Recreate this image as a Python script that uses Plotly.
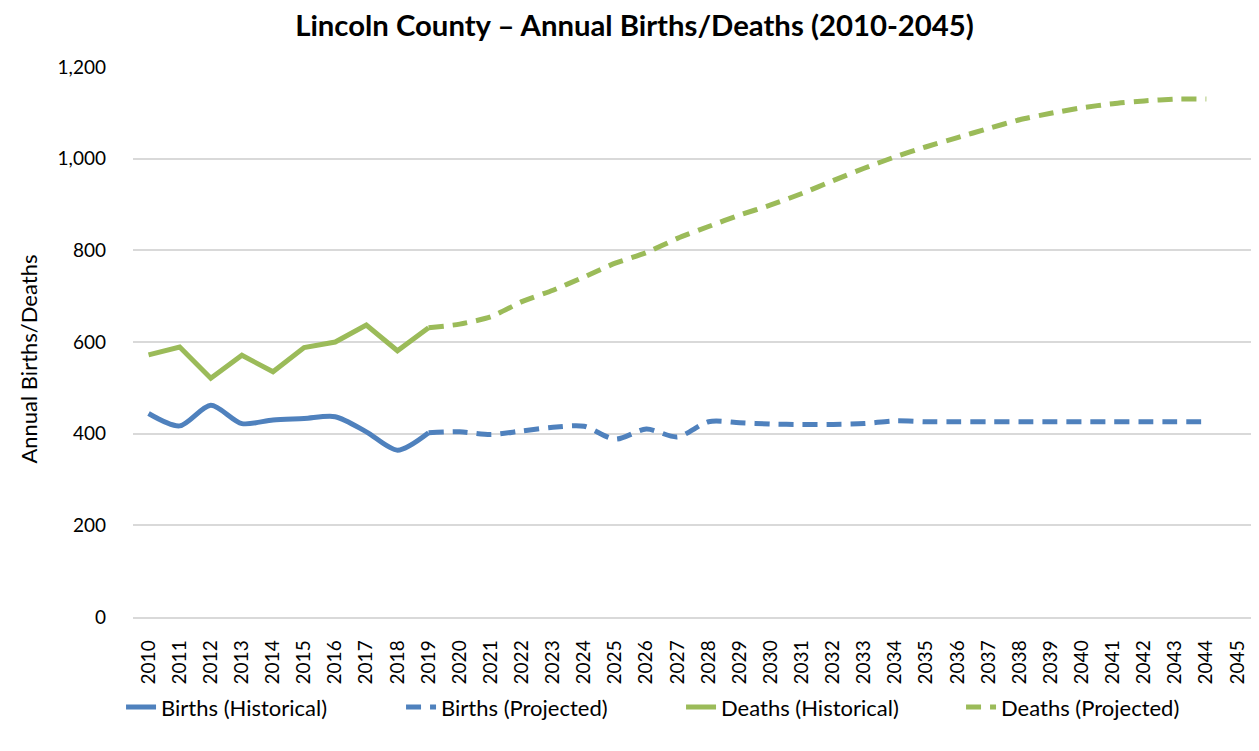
import plotly.graph_objects as go

years = [str(y) for y in range(2010, 2046)]
hist_years = [str(y) for y in range(2010, 2020)]
proj_years = [str(y) for y in range(2019, 2045)]

births_hist = [444, 417, 462, 422, 430, 433, 437, 404, 364, 402]
births_proj = [402, 404, 398, 406, 414, 416, 388, 410, 393, 426, 424, 421, 420,
               420, 422, 428, 426, 426, 426, 426, 426, 426, 426, 426, 426, 426]
deaths_hist = [572, 589, 521, 571, 535, 588, 600, 637, 581, 631]
deaths_proj = [631, 639, 655, 688, 713, 742, 772, 795, 826, 852, 877, 899, 924,
               952, 979, 1004, 1026, 1046, 1066, 1085, 1099, 1111, 1120, 1126, 1130, 1130]

BLUE = "#4f81bd"
GREEN = "#9bbb59"
FONT = "Lato"

fig = go.Figure()
fig.add_trace(go.Scatter(x=hist_years, y=births_hist, name="Births (Historical)", mode="lines",
                         line=dict(color=BLUE, width=5, shape="spline", smoothing=0.8)))
fig.add_trace(go.Scatter(x=proj_years, y=births_proj, name="Births (Projected)", mode="lines",
                         line=dict(color=BLUE, width=5, dash="15px,9px", shape="spline", smoothing=0.8)))
fig.add_trace(go.Scatter(x=hist_years, y=deaths_hist, name="Deaths (Historical)", mode="lines",
                         line=dict(color=GREEN, width=5)))
fig.add_trace(go.Scatter(x=proj_years, y=deaths_proj, name="Deaths (Projected)", mode="lines",
                         line=dict(color=GREEN, width=5, dash="15px,9px", shape="spline", smoothing=0.6)))

# The page body adds an 8px offset, so the figure is sized to fit the 1259x751 window.
fig.update_layout(
    width=1251, height=743,
    paper_bgcolor="white", plot_bgcolor="white",
    font=dict(family=FONT, size=19, color="#000000"),
    title=dict(text="<b>Lincoln County – Annual Births/Deaths (2010-2045)</b>",
               x=0.5008, xanchor="center", xref="container", y=0.9758, yanchor="middle",
               font=dict(family=FONT, size=29.3, color="#000000")),
    margin=dict(l=125, r=6, t=59, b=134, autoexpand=False),
    showlegend=True,
    legend=dict(orientation="h", xref="container", yref="container",
                x=0.538, xanchor="center", y=0.059, yanchor="middle",
                font=dict(family=FONT, size=22), traceorder="normal",
                entrywidth=235, entrywidthmode="pixels"),
    xaxis=dict(type="category", categoryorder="array", categoryarray=years,
               tickvals=years, ticktext=years, range=[-0.5, 35.5], automargin=False,
               tickangle=-90, showgrid=False, showline=True, linecolor="#d9d9d9", linewidth=1.5,
               ticks="", ticklabelstandoff=14,
               tickfont=dict(family=FONT, size=19)),
    yaxis=dict(range=[0, 1200], dtick=200, tickformat=",", showgrid=True, automargin=False,
               gridcolor="#d9d9d9", gridwidth=1.5, zeroline=False, showline=False,
               ticks="", ticklabelstandoff=26,
               tickfont=dict(family=FONT, size=19)),
    annotations=[dict(text="Annual Births/Deaths", xref="paper", yref="paper",
                      x=-0.0933, y=0.469, xanchor="center", yanchor="middle",
                      textangle=-90, showarrow=False,
                      font=dict(family=FONT, size=22, color="#000000"))],
)

fig.write_html("out.html")
